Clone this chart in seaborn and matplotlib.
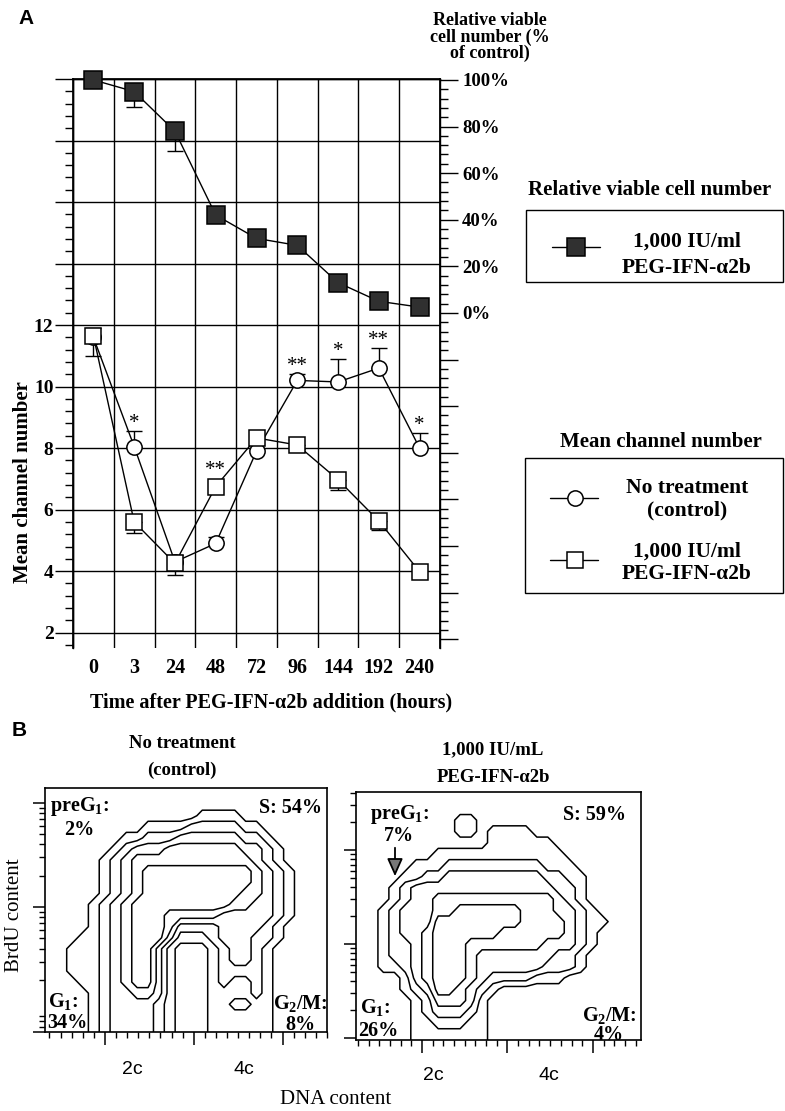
import numpy as np
import pandas as pd
import matplotlib
matplotlib.use("Agg")
import matplotlib.pyplot as plt
import seaborn as sns
from matplotlib.ticker import MultipleLocator
from matplotlib.patches import Rectangle

# ---------------- data (panel A) ----------------
time_labels = ["0", "3", "24", "48", "72", "96", "144", "192", "240"]
viable_pct = [100, 95, 78, 42, 32, 29, 13, 5, 2.5]
viable_err_low = [0, 6.5, 8.5, 0, 0, 0, 0, 0, 0]
control_mcn = [11.6, 8.05, 4.3, 4.9, 7.9, 10.2, 10.15, 10.6, 8.0]
control_err_up = [0.3, 0.5, 0.23, 0.22, 0, 0.2, 0.75, 0.65, 0.5]
treated_mcn = [11.65, 5.6, 4.25, 6.75, 8.33, 8.1, 6.97, 5.63, 3.98]
treated_err_low = [0.65, 0.35, 0.37, 0, 0, 0.12, 0.32, 0.28, 0]
star_labels = ["", "*", "", "**", "", "**", "*", "**", "*"]
left_ticks = [2, 4, 6, 8, 10, 12]
right_ticks = [0, 20, 40, 60, 80, 100]

# ---------------- data (panel B): contour level maps ----------------
control_map = [
    "00000000000000000000000000",
    "00000000000000000000000000",
    "00000000000000111100000000",
    "00000000011112222211000000",
    "00000001122233333322100000",
    "00000012333444444433210000",
    "00000123444444444443210000",
    "00000123455555555554321000",
    "00000123455555555554321000",
    "00000123455555555544321000",
    "00001234555555555443321000",
    "00001234555444443333321000",
    "00001234555422223333210000",
    "00011234555311123332210000",
    "00111234553100012332100000",
    "00111234553100012332100000",
    "00111234553100012222100000",
    "00011234553100012112100000",
    "00001233443100011112100000",
    "00001233332100011221100000",
    "00001233332100011111100000",
    "00001233332100011111100000",
]
treated_map = [
    "00000000000000000000000000",
    "00000000000000000000000000",
    "00000000011000000000000000",
    "00000000011011110000000000",
    "00000000000011111100000000",
    "00000001111111111110000000",
    "00000111222222222111000000",
    "00001122333333333221100000",
    "00012333333333333322100000",
    "00012334444444444432100000",
    "00123334455555544433210000",
    "00123335555555544443211000",
    "00123345555554444443210000",
    "00122345554444444333210000",
    "00122345554333333322100000",
    "00112345554333333222100000",
    "00001345554322221110000000",
    "00001235543210000000000000",
    "00000124443100000000000000",
    "00000123332100000000000000",
    "00000112221100000000000000",
    "00000111111100000000000000",
]
contour_levels = [0.5, 1.5, 2.5, 3.5, 4.5]

# ---------------- style ----------------
sns.set_theme(style="white")
plt.rcParams['font.family'] = ['Liberation Serif', 'DejaVu Serif']
plt.rcParams['font.weight'] = 'bold'
plt.rcParams['axes.labelweight'] = 'bold'
plt.rcParams['mathtext.fontset'] = 'custom'
plt.rcParams['mathtext.rm'] = 'Liberation Serif:bold'
plt.rcParams['mathtext.it'] = 'Liberation Serif:italic:bold'
plt.rcParams['mathtext.bf'] = 'Liberation Serif:bold'
for k in ['axes.edgecolor', 'xtick.color', 'ytick.color', 'text.color', 'axes.labelcolor']:
    plt.rcParams[k] = 'black'

W, H = 785, 1111
fig = plt.figure(figsize=(W / 100, H / 100), dpi=100)


def box(l, t, r, b):
    return [l / W, 1 - b / H, (r - l) / W, (b - t) / H]


# ---------------- panel A ----------------
ax = fig.add_axes(box(73, 79, 440, 648))
ax2 = ax.twinx()
xpos = np.arange(len(time_labels))
df = pd.DataFrame({'x': xpos, 'control': control_mcn, 'treated': treated_mcn, 'viable': viable_pct})

ax.set_xlim(-0.5, 8.5)
ax.set_ylim(1.5, 20)
yt = np.arange(2, 21, 2)
ax.set_yticks(yt)
ax.set_yticklabels([str(v) if v in left_ticks else '' for v in yt])
ax.yaxis.set_minor_locator(MultipleLocator(0.4))
ax.set_xticks(xpos)
ax.set_xticklabels(time_labels)
ax.set_xticks(np.arange(-0.5, 9, 1), minor=True)
ax.grid(True, axis='y', which='major', color='black', lw=1.0)
ax.grid(True, axis='x', which='minor', color='black', lw=1.0)
ax.set_axisbelow(True)
ax.tick_params(axis='y', which='major', direction='out', length=13, width=1.0, pad=1,
               labelsize=14, left=True)
ax.tick_params(axis='y', which='minor', direction='out', length=6, width=1.0, left=True)
ax.tick_params(axis='x', which='both', length=0, pad=7, labelsize=14.5, bottom=True)
for s in ['left', 'right', 'top']:
    ax.spines[s].set_linewidth(1.0)
ax.spines['bottom'].set_visible(False)

ax2.set_ylim(-143.8, 100.4)
rt = np.arange(-140, 101, 20)
ax2.set_yticks(rt)
ax2.set_yticklabels([f"{v}%" if v in right_ticks else '' for v in rt])
ax2.yaxis.set_minor_locator(MultipleLocator(4))
ax2.tick_params(axis='y', which='major', direction='out', length=13, width=1.0, pad=3,
                labelsize=13.5, right=True)
ax2.tick_params(axis='y', which='minor', direction='out', length=6, width=1.0, right=True)
ax2.spines['bottom'].set_visible(False)
ax2.grid(False)

# error bars (one-sided)
ce = np.array(control_err_up)
m = ce > 0
ax.errorbar(xpos[m], np.array(control_mcn)[m], yerr=[np.zeros(m.sum()), ce[m]], fmt='none',
            ecolor='black', elinewidth=1, capsize=5.5, capthick=1, zorder=3)
te = np.array(treated_err_low)
m = te > 0
ax.errorbar(xpos[m], np.array(treated_mcn)[m], yerr=[te[m], np.zeros(m.sum())], fmt='none',
            ecolor='black', elinewidth=1, capsize=5.5, capthick=1, zorder=3)
ve = np.array(viable_err_low)
m = ve > 0
ax2.errorbar(xpos[m], np.array(viable_pct)[m], yerr=[ve[m], np.zeros(m.sum())], fmt='none',
             ecolor='black', elinewidth=1, capsize=5.5, capthick=1, zorder=3)

sns.lineplot(data=df, x='x', y='control', ax=ax, color='black', lw=1, marker='o', markersize=11,
             markerfacecolor='white', markeredgecolor='black', markeredgewidth=1.1,
             errorbar=None, zorder=4, clip_on=False)
sns.lineplot(data=df, x='x', y='treated', ax=ax, color='black', lw=1, marker='s', markersize=11.5,
             markerfacecolor='white', markeredgecolor='black', markeredgewidth=1.1,
             errorbar=None, zorder=5, clip_on=False)
sns.lineplot(data=df, x='x', y='viable', ax=ax2, color='black', lw=1, marker='s', markersize=13,
             markerfacecolor='#303030', markeredgecolor='black', markeredgewidth=1.1,
             errorbar=None, zorder=5, clip_on=False)
ax.set_xlabel('')
ax.set_ylabel('')
ax2.set_ylabel('')
ax2.set_xlabel('')

for i, st in enumerate(star_labels):
    if not st:
        continue
    top_c = control_mcn[i] + control_err_up[i]
    if treated_mcn[i] > top_c:
        base, off = treated_mcn[i], 8
    else:
        base, off = top_c, 2
    ax.annotate(st, xy=(i, base), xytext=(0, off), textcoords='offset points',
                ha='center', va='baseline', fontsize=15, fontweight='normal', zorder=6)

# ---------------- panel B ----------------
def flow_panel(rect, rows, xlim, ylim, major_y):
    axb = fig.add_axes(box(*rect))
    Z = np.array([[int(c) for c in r] for r in rows], float)[::-1]
    ny, nx = Z.shape
    xe = np.linspace(xlim[0], xlim[1], nx + 1)
    ye = np.linspace(ylim[0], ylim[1], ny + 1)
    xs = np.concatenate([[xlim[0]], (xe[:-1] + xe[1:]) / 2, [xlim[1]]])
    ys = np.concatenate([[ylim[0]], (ye[:-1] + ye[1:]) / 2, [ylim[1]]])
    Zp = np.pad(Z, 1, mode='edge')
    axb.contour(xs, ys, Zp, levels=contour_levels, colors='black', linewidths=1.1)
    axb.set_xlim(xlim)
    axb.set_ylim(ylim)
    axb.set_xticks([8, 16, 24])
    axb.xaxis.set_minor_locator(MultipleLocator(1))
    yminor = [n + np.log10(mm) for n in range(-1, 3) for mm in range(2, 10)]
    yminor = [v for v in yminor if ylim[0] <= v <= ylim[1]]
    axb.set_yticks(major_y)
    axb.set_yticks(yminor, minor=True)
    axb.set_xticklabels([])
    axb.set_yticklabels([])
    axb.tick_params(which='major', direction='out', length=9, width=1.1, left=True, bottom=True)
    axb.tick_params(which='minor', direction='out', length=4.5, width=1.0, left=True, bottom=True)
    for s in axb.spines.values():
        s.set_linewidth(1.2)
        s.set_visible(True)
    axb.grid(False)
    return axb


flow_panel((45, 788, 327, 1032), control_map, (2.6, 28.0), (-0.2, 2.144), [-0.2, 1, 2])
flow_panel((356, 792, 641, 1040), treated_map, (1.83, 28.5), (-0.02, 2.617), [0, 1, 2])

# ---------------- overlay: texts, legends ----------------
ov = fig.add_axes([0, 0, 1, 1])
ov.set_xlim(0, W)
ov.set_ylim(H, 0)
ov.axis('off')
ov.patch.set_alpha(0)

def T(x, y, s, **kw):
    kw.setdefault('ha', 'center')
    kw.setdefault('va', 'center')
    ov.text(x, y, s, **kw)

T(26, 18, 'A', family='Liberation Sans', fontsize=15, fontweight='bold')
T(19, 730, 'B', family='Liberation Sans', fontsize=15, fontweight='bold')
T(490, 37, 'Relative viable\ncell number (%\nof control)', fontsize=13, linespacing=0.95)
T(23, 482, 'Mean channel number', fontsize=15, rotation=90)
T(271, 702, 'Time after PEG-IFN-\u03b12b addition (hours)', fontsize=14.5)

# legend 1
T(650, 190, 'Relative viable cell number', fontsize=15)
ov.add_patch(Rectangle((526, 210), 257, 72, fill=False, ec='black', lw=1.0))
ov.plot([552, 600], [247, 247], color='black', lw=1)
ov.plot([576], [247], marker='s', markersize=13, mfc='#303030', mec='black', mew=1.1)
T(687, 242, '1,000 IU/ml', fontsize=15.5)
T(687, 268, 'PEG-IFN-\u03b12b', fontsize=15.5)

# legend 2
T(661, 442, 'Mean channel number', fontsize=15)
ov.add_patch(Rectangle((525, 458), 258, 135, fill=False, ec='black', lw=1.0))
ov.plot([550, 598], [498, 498], color='black', lw=1)
ov.plot([575], [498], marker='o', markersize=11, mfc='white', mec='black', mew=1.1)
ov.plot([550, 598], [560, 560], color='black', lw=1)
ov.plot([575], [560], marker='s', markersize=11.5, mfc='white', mec='black', mew=1.1)
T(687, 488, 'No treatment', fontsize=15.5)
T(687, 510, '(control)', fontsize=15.5)
T(687, 552, '1,000 IU/ml', fontsize=15.5)
T(687, 574, 'PEG-IFN-\u03b12b', fontsize=15.5)

# panel B titles and labels
T(182, 743, 'No treatment', fontsize=13.5)
T(182, 770, '(control)', fontsize=13.5)
T(493, 750, '1,000 IU/mL', fontsize=13.5)
T(493, 777, 'PEG-IFN-\u03b12b', fontsize=13.5)

T(50, 807, 'preG$_1$:', fontsize=14.5, ha='left')
T(79, 830, '2%', fontsize=14.5)
T(322, 808, 'S: 54%', fontsize=14.5, ha='right')
T(48, 1002, 'G$_1$:', fontsize=14.5, ha='left')
T(47, 1023, '34%', fontsize=14.5, ha='left')
T(328, 1004, 'G$_2$/M:', fontsize=14.5, ha='right')
T(300, 1025, '8%', fontsize=14.5)

T(370, 815, 'preG$_1$:', fontsize=14.5, ha='left')
T(399, 836, '7%', fontsize=14.5)
T(626, 815, 'S: 59%', fontsize=14.5, ha='right')
T(360, 1008, 'G$_1$:', fontsize=14.5, ha='left')
T(358, 1031, '26%', fontsize=14.5, ha='left')
T(637, 1015, 'G$_2$/M:', fontsize=14.5, ha='right')
T(609, 1035, '4%', fontsize=14.5)
ov.annotate('', xy=(395, 879), xytext=(395, 845),
            arrowprops=dict(arrowstyle='-|>,head_width=0.4,head_length=0.9',
                            color='black', fc='#777777', lw=1.3))

for x, y, s in [(132, 1070, '2c'), (244, 1070, '4c'), (433, 1075, '2c'), (549, 1075, '4c')]:
    T(x, y, s, family='Liberation Sans', fontsize=14, fontweight='normal')
T(336, 1100, 'DNA content', fontsize=15, fontweight='normal')
T(15, 915, 'BrdU content', fontsize=15, fontweight='normal', rotation=90)

fig.savefig('out.png', dpi=100)
